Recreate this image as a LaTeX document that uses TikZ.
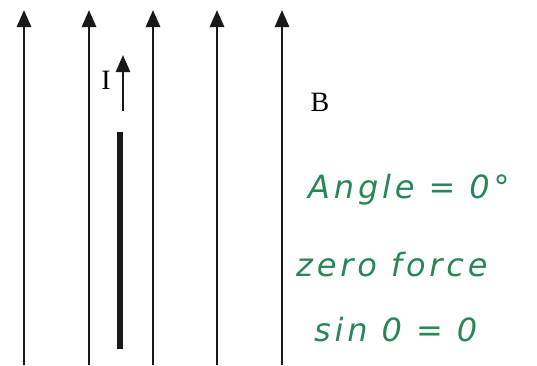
\documentclass[tikz,border=0pt]{standalone}
\usepackage{fontspec}
\setmainfont{Liberation Serif}
\newfontfamily\handfont[LetterSpace=12]{DejaVu Sans}
\usetikzlibrary{arrows.meta}
\definecolor{penGreen}{RGB}{40,135,85}
\definecolor{ink}{RGB}{25,25,25}
\tikzset{
  fieldline/.style={draw=ink, line width=2.8pt, -{Triangle[width=14pt,length=17pt]}},
  hand/.style={text=penGreen, font=\handfont\itshape\fontsize{32}{34}\selectfont, anchor=west, inner sep=0pt},
  lettr/.style={font=\fontsize{28}{30}\selectfont, inner sep=0pt},
}
\begin{document}
\begin{tikzpicture}[x=1pt,y=-1pt]
\useasboundingbox (0,0) rectangle (537,365);
\foreach \n/\xx in {a/24, b/89, c/153, d/217, e/282} {
  \coordinate (bot\n) at (\xx,365);
  \coordinate (top\n) at (\xx,10);
  \draw[fieldline] (bot\n) -- (top\n);
}
\coordinate (ibot) at (123,111);
\coordinate (itop) at (123,55);
\draw[draw=ink, line width=2.6pt, -{Triangle[width=14pt,length=17pt]}] (ibot) -- (itop);
\node[lettr] (I) at (106,80) {I};
\coordinate (wtop) at (120,132);
\coordinate (wbot) at (120,349);
\draw[draw=ink, line width=6.5pt] (wtop) -- (wbot);
\node[lettr] (B) at (320,102) {B};
\node[hand] (t1) at (308,190) {Angle = 0\textdegree};
\node[hand] (t2) at (296,265) {zero force};
\node[hand] (t3) at (314,330) {sin 0 = 0};
\end{tikzpicture}
\end{document}
